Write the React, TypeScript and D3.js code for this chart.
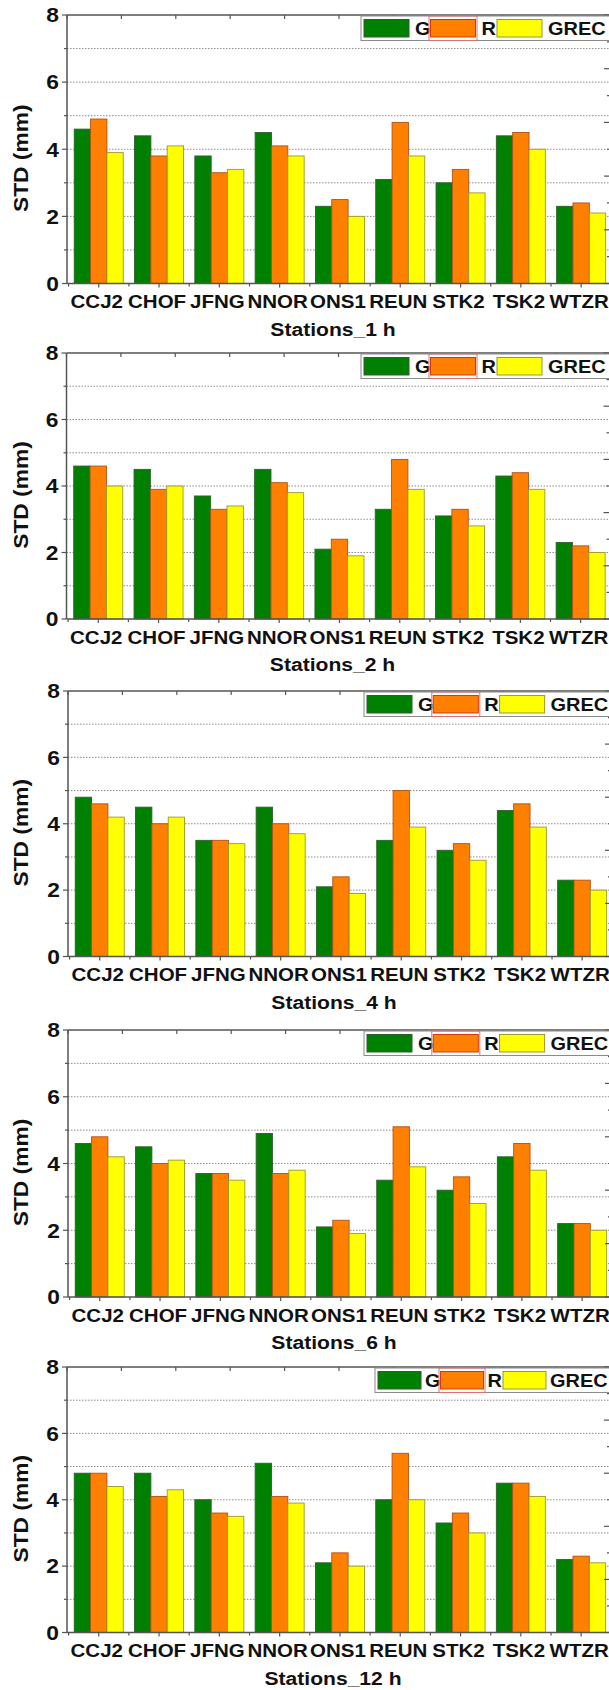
import React from "react";
import * as d3 from "d3";

// station names on the x axis
const STATIONS = ["CCJ2", "CHOF", "JFNG", "NNOR", "ONS1", "REUN", "STK2", "TSK2", "WTZR"];
const SERIES = ["G", "R", "GREC"];
const COLORS = { G: "#008000", R: "#FF8000", GREC: "#FFFF00" };
const BORDERS = { G: "#2f5f2f", R: "#b0501a", GREC: "#9a9a30" };

// STD (mm) per station, one array per series and interval
const G_1H = [4.6, 4.4, 3.8, 4.5, 2.3, 3.1, 3.0, 4.4, 2.3];
const R_1H = [4.9, 3.8, 3.3, 4.1, 2.5, 4.8, 3.4, 4.5, 2.4];
const GREC_1H = [3.9, 4.1, 3.4, 3.8, 2.0, 3.8, 2.7, 4.0, 2.1];

const G_2H = [4.6, 4.5, 3.7, 4.5, 2.1, 3.3, 3.1, 4.3, 2.3];
const R_2H = [4.6, 3.9, 3.3, 4.1, 2.4, 4.8, 3.3, 4.4, 2.2];
const GREC_2H = [4.0, 4.0, 3.4, 3.8, 1.9, 3.9, 2.8, 3.9, 2.0];

const G_4H = [4.8, 4.5, 3.5, 4.5, 2.1, 3.5, 3.2, 4.4, 2.3];
const R_4H = [4.6, 4.0, 3.5, 4.0, 2.4, 5.0, 3.4, 4.6, 2.3];
const GREC_4H = [4.2, 4.2, 3.4, 3.7, 1.9, 3.9, 2.9, 3.9, 2.0];

const G_6H = [4.6, 4.5, 3.7, 4.9, 2.1, 3.5, 3.2, 4.2, 2.2];
const R_6H = [4.8, 4.0, 3.7, 3.7, 2.3, 5.1, 3.6, 4.6, 2.2];
const GREC_6H = [4.2, 4.1, 3.5, 3.8, 1.9, 3.9, 2.8, 3.8, 2.0];

const G_12H = [4.8, 4.8, 4.0, 5.1, 2.1, 4.0, 3.3, 4.5, 2.2];
const R_12H = [4.8, 4.1, 3.6, 4.1, 2.4, 5.4, 3.6, 4.5, 2.3];
const GREC_12H = [4.4, 4.3, 3.5, 3.9, 2.0, 4.0, 3.0, 4.1, 2.1];

const X_TITLES = ["Stations_1 h", "Stations_2 h", "Stations_4 h", "Stations_6 h", "Stations_12 h"];
const Y_TITLE = "STD (mm)";
const Y_TICKS = [0, 2, 4, 6, 8];

// layout of the five stacked panels
const PANEL_TOP = [15, 353, 691, 1030, 1367];
const PANEL_BOTTOM = [283.5, 619, 956.5, 1297, 1632.5];
const PANEL_SHIFT = [0, -0.5, 1, 1, 0];
const LEGEND_X = [361, 361, 364, 364, 375];
const LEGEND_STEP = [66.5, 66.5, 66.3, 66.3, 62.5];
const LEGEND_SWATCH = [45, 45, 45, 45, 43];

const panels = [
  { G: G_1H, R: R_1H, GREC: GREC_1H },
  { G: G_2H, R: R_2H, GREC: GREC_2H },
  { G: G_4H, R: R_4H, GREC: GREC_4H },
  { G: G_6H, R: R_6H, GREC: GREC_6H },
  { G: G_12H, R: R_12H, GREC: GREC_12H }
];

const FONT = "'Liberation Sans', Arial, sans-serif";
const STRETCH = 1.14;

function SText({ x, y, size, anchor = "middle", rotate = 0, children }) {
  return (
    <text
      transform={`translate(${x},${y}) rotate(${rotate}) scale(${STRETCH},1)`}
      fontFamily={FONT}
      fontWeight="bold"
      fontSize={size}
      textAnchor={anchor}
      fill="#111"
    >
      {children}
    </text>
  );
}

function Panel({ idx }) {
  const data = panels[idx];
  const left = 67 + PANEL_SHIFT[idx];
  const right = left + 544;
  const top = PANEL_TOP[idx];
  const bottom = PANEL_BOTTOM[idx];

  const x0 = d3
    .scaleBand()
    .domain(STATIONS)
    .range([left + 1.6, left + 1.6 + 542.7])
    .paddingInner(0.187)
    .paddingOuter(0.0935);
  const x1 = d3.scaleBand().domain(SERIES).range([0, x0.bandwidth()]);
  const y = d3.scaleLinear().domain([0, 8]).range([bottom, top]);
  // the top and right axes of the original plot run 0..10
  const xTop = d3.scaleLinear().domain([0, 10]).range([left, right]);
  const yRight = d3.scaleLinear().domain([0, 10]).range([bottom, top]);

  const axisColor = "#555";
  const lx = LEGEND_X[idx];
  const ly = top + 1;
  const sw = LEGEND_SWATCH[idx];

  return (
    <g>
      {/* dotted grid */}
      {d3.range(1, 8).map(v => (
        <line
          key={"g" + v}
          x1={left}
          x2={right}
          y1={y(v)}
          y2={y(v)}
          stroke="#8c8c8c"
          strokeWidth={1}
          strokeDasharray="1.5,1.5"
        />
      ))}

      {/* bars */}
      {STATIONS.map((s, i) => (
        <g key={s} transform={`translate(${x0(s)},0)`}>
          {SERIES.map(k => (
            <rect
              key={k}
              x={x1(k)}
              y={y(data[k][i])}
              width={x1.bandwidth()}
              height={y(0) - y(data[k][i])}
              fill={COLORS[k]}
              stroke={BORDERS[k]}
              strokeWidth={0.9}
            />
          ))}
        </g>
      ))}

      {/* frame */}
      <line x1={left} x2={left} y1={top} y2={bottom} stroke={axisColor} strokeWidth={1.5} />
      <line x1={left} x2={right} y1={bottom} y2={bottom} stroke={axisColor} strokeWidth={1.5} />
      <line x1={left} x2={right} y1={top} y2={top} stroke={axisColor} strokeWidth={1.5} />
      <line x1={right} x2={right} y1={top} y2={bottom} stroke={axisColor} strokeWidth={1.5} />

      {/* top axis ticks (inward) */}
      {xTop.ticks(10).map(t => (
        <line key={"t" + t} x1={xTop(t)} x2={xTop(t)} y1={top} y2={top + 4} stroke={axisColor} strokeWidth={1.2} />
      ))}
      {/* right axis ticks (inward) */}
      {yRight.ticks(10).map(t => (
        <line
          key={"r" + t}
          x1={right}
          x2={right - (t % 2 === 0 ? 7 : 4)}
          y1={yRight(t)}
          y2={yRight(t)}
          stroke={axisColor}
          strokeWidth={1.2}
        />
      ))}

      {/* left axis ticks */}
      {d3.range(0, 9).map(v => (
        <line
          key={"y" + v}
          x1={left - (v % 2 === 0 ? 5 : 3)}
          x2={left}
          y1={y(v)}
          y2={y(v)}
          stroke={axisColor}
          strokeWidth={1.2}
        />
      ))}
      {Y_TICKS.map(v => (
        <SText key={"yl" + v} x={left - 8} y={y(v) + 7.3} size={20} anchor="end">
          {v}
        </SText>
      ))}

      {/* bottom axis ticks */}
      {STATIONS.map(s => (
        <g key={"bt" + s}>
          <line
            x1={x0(s) + x0.bandwidth() / 2}
            x2={x0(s) + x0.bandwidth() / 2}
            y1={bottom}
            y2={bottom + 4}
            stroke={axisColor}
            strokeWidth={1.2}
          />
          <line
            x1={x0(s) - (x0.step() - x0.bandwidth()) / 2}
            x2={x0(s) - (x0.step() - x0.bandwidth()) / 2}
            y1={bottom}
            y2={bottom + 3}
            stroke={axisColor}
            strokeWidth={1.2}
          />
        </g>
      ))}
      {STATIONS.map(s => (
        <SText key={"xl" + s} x={x0(s) + x0.bandwidth() / 2 - 2} y={bottom + 24.5} size={18}>
          {s}
        </SText>
      ))}

      {/* axis titles */}
      <SText x={333 + PANEL_SHIFT[idx]} y={bottom + 52} size={18.5}>
        {X_TITLES[idx]}
      </SText>
      <SText x={28} y={(top + bottom) / 2 + 9} size={20} rotate={-90}>
        {Y_TITLE}
      </SText>

      {/* legend */}
      <rect x={lx} y={ly} width={620 - lx} height={24.5} fill="#fff" stroke="#8a8a8a" strokeWidth={1} />
      {SERIES.map((k, i) => {
        const sx = lx + 3 + i * LEGEND_STEP[idx];
        return (
          <g key={"lg" + k}>
            {k === "R" && (
              <rect x={sx - 1.5} y={ly} width={sw + 3} height={24.5} fill="none" stroke="#e07070" strokeWidth={1} />
            )}
            <rect
              x={sx}
              y={ly + 3.5}
              width={sw}
              height={17.5}
              fill={COLORS[k]}
              stroke={k === "R" ? "#d03a10" : BORDERS[k]}
              strokeWidth={1}
            />
            <SText x={sx + sw + (idx === 4 ? 4 : 6)} y={ly + 19} size={17.5} anchor="start">
              {k}
            </SText>
          </g>
        );
      })}
    </g>
  );
}

export default function App() {
  return (
    <div style={{ position: "absolute", left: 0, top: 0, width: 609, height: 1690, overflow: "hidden", background: "#fff" }}>
      <svg width={609} height={1690} style={{ display: "block" }}>
        <rect width={609} height={1690} fill="#fff" />
        {panels.map((p, i) => (
          <Panel key={i} idx={i} />
        ))}
      </svg>
    </div>
  );
}
